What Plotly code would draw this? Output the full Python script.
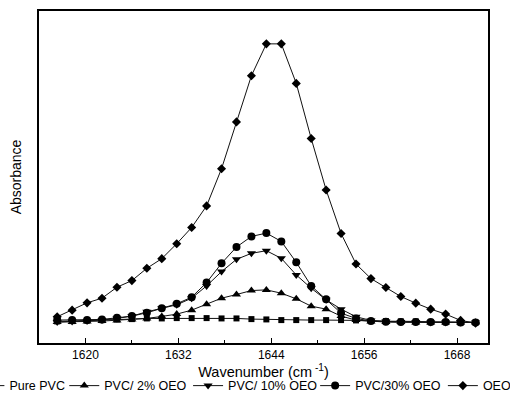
import plotly.graph_objects as go

# Wavenumber (cm-1) sample positions
wavenumber = [1616.35, 1618.28, 1620.21, 1622.14, 1624.07, 1626.00, 1627.93, 1629.86,
              1631.79, 1633.72, 1635.65, 1637.58, 1639.51, 1641.44, 1643.37, 1645.30,
              1647.23, 1649.16, 1651.09, 1653.02, 1654.95, 1656.88, 1658.81, 1660.74,
              1662.67, 1664.60, 1666.53, 1668.46, 1670.39]

pure_pvc = [0.065, 0.066, 0.068, 0.069, 0.071, 0.072, 0.074, 0.074, 0.075, 0.075,
            0.075, 0.074, 0.074, 0.072, 0.071, 0.069, 0.069, 0.069, 0.069, 0.069,
            0.068, 0.066, 0.066, 0.065, 0.065, 0.063, 0.063, 0.062, 0.062]

pvc_2 = [0.063, 0.063, 0.065, 0.066, 0.068, 0.071, 0.074, 0.080, 0.087, 0.099,
         0.117, 0.135, 0.146, 0.158, 0.160, 0.150, 0.133, 0.111, 0.102, 0.081,
         0.069, 0.065, 0.063, 0.063, 0.062, 0.062, 0.062, 0.062, 0.062]

pvc_10 = [0.063, 0.065, 0.066, 0.069, 0.074, 0.081, 0.094, 0.105, 0.115, 0.135,
          0.172, 0.215, 0.252, 0.270, 0.278, 0.255, 0.205, 0.165, 0.130, 0.102,
          0.079, 0.068, 0.065, 0.063, 0.063, 0.062, 0.062, 0.062, 0.062]

pvc_30 = [0.069, 0.069, 0.069, 0.071, 0.076, 0.081, 0.091, 0.105, 0.118, 0.138,
          0.182, 0.240, 0.289, 0.321, 0.331, 0.306, 0.243, 0.172, 0.132, 0.090,
          0.074, 0.066, 0.064, 0.063, 0.063, 0.063, 0.063, 0.062, 0.062]

oeo = [0.079, 0.099, 0.121, 0.135, 0.168, 0.188, 0.225, 0.254, 0.299, 0.348,
       0.413, 0.525, 0.666, 0.805, 0.901, 0.901, 0.782, 0.616, 0.461, 0.330,
       0.238, 0.194, 0.167, 0.140, 0.120, 0.102, 0.087, 0.068, 0.060]

series_names = ["Pure PVC", "PVC/ 2% OEO", "PVC/ 10% OEO", "PVC/30% OEO", "OEO"]
series_values = [pure_pvc, pvc_2, pvc_10, pvc_30, oeo]
symbols = ["square", "triangle-up", "triangle-down", "circle", "diamond"]
sizes = [6, 8, 8, 8, 7]
legend_ids = ["legend", "legend2", "legend3", "legend4", "legend5"]
legend_x = [-0.155, 0.0563, 0.332, 0.615, 0.8995]

FONT = "Arial, Liberation Sans, sans-serif"

fig = go.Figure()
for name, vals, sym, sz, lid in zip(series_names, series_values, symbols, sizes, legend_ids):
    fig.add_trace(go.Scatter(
        x=wavenumber, y=vals, name=name, mode="lines+markers",
        line=dict(color="#111111", width=1),
        marker=dict(symbol=sym, size=sz, color="black", line=dict(width=0)),
        legend=lid,
    ))

layout_legends = {}
for lid, lx in zip(legend_ids, legend_x):
    layout_legends[lid] = dict(
        x=lx, y=-0.1295, xref="paper", yref="paper",
        xanchor="left", yanchor="middle", orientation="h",
        bgcolor="rgba(0,0,0,0)", borderwidth=0,
        font=dict(family=FONT, size=12.5, color="black"),
    )

fig.update_layout(
    width=510, height=401,
    margin=dict(l=39, r=22, t=11, b=58, autoexpand=False),
    paper_bgcolor="white", plot_bgcolor="white",
    showlegend=True,
    font=dict(family=FONT, color="black"),
    **layout_legends,
)

fig.update_xaxes(
    range=[1614, 1672],
    tickvals=[1620, 1632, 1644, 1656, 1668],
    ticks="inside", ticklen=5, tickwidth=1, tickcolor="black",
    tickfont=dict(family=FONT, size=12, color="black"),
    minor=dict(tickvals=[1626, 1638, 1650, 1662], ticks="inside", ticklen=3,
               tickwidth=1, tickcolor="black"),
    showline=True, linewidth=1.5, linecolor="black", mirror=True,
    showgrid=False, zeroline=False,
    title=dict(text="Wavenumber (cm<sup> -1</sup>)", font=dict(family=FONT, size=14.5),
               standoff=4),
)
fig.update_yaxes(
    range=[0, 1],
    showticklabels=False, ticks="",
    showline=True, linewidth=1.5, linecolor="black", mirror=True,
    showgrid=False, zeroline=False,
    title=dict(text="Absorbance", font=dict(family=FONT, size=14), standoff=12),
)

fig.write_html(
    "out.html",
    config={"displayModeBar": False},
    post_script="document.body.style.margin='0px';document.body.style.overflow='hidden';",
)
